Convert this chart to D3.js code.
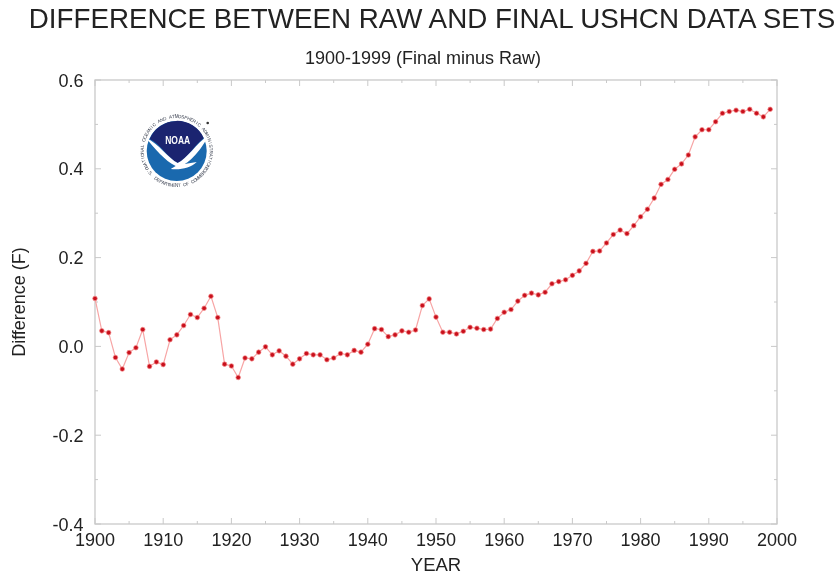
<!DOCTYPE html>
<html>
<head>
<meta charset="utf-8">
<script src="https://cdn.jsdelivr.net/npm/d3@7"></script>
<style>
  html, body { margin: 0; padding: 0; background: #fff; }
  svg { display: block; filter: blur(0.4px); }
  text { font-family: "Liberation Sans", Arial, sans-serif; fill: #222; }
</style>
</head>
<body>
<div id="chart"></div>
<script>
const TITLE = 'DIFFERENCE BETWEEN RAW AND FINAL USHCN DATA SETS'
const SUBTITLE = '1900-1999 (Final minus Raw)'
const X_LABEL = 'YEAR'
const Y_LABEL = 'Difference (F)'
const X_TICKS = [1900, 1910, 1920, 1930, 1940, 1950, 1960, 1970, 1980, 1990, 2000]
const X_MINOR = [1905, 1915, 1925, 1935, 1945, 1955, 1965, 1975, 1985, 1995]
const Y_TICKS = [-0.4, -0.2, 0.0, 0.2, 0.4, 0.6]
const Y_MINOR = [-0.3, -0.1, 0.1, 0.3, 0.5]
const FIRST_YEAR = 1900
const DIFFERENCE = [
  0.108, 0.035, 0.031, -0.025, -0.051, -0.014, -0.003, 0.038, -0.045, -0.035,
  -0.041, 0.015, 0.026, 0.047, 0.072, 0.065, 0.086, 0.113, 0.065, -0.040,
  -0.044, -0.070, -0.026, -0.028, -0.013, -0.001, -0.019, -0.010, -0.022, -0.040,
  -0.028, -0.016, -0.019, -0.019, -0.030, -0.026, -0.016, -0.019, -0.009, -0.013,
  0.005, 0.040, 0.038, 0.022, 0.026, 0.035, 0.032, 0.037, 0.092, 0.107,
  0.066, 0.032, 0.032, 0.028, 0.034, 0.043, 0.041, 0.038, 0.039, 0.063,
  0.077, 0.083, 0.102, 0.115, 0.120, 0.116, 0.122, 0.141, 0.146, 0.150,
  0.160, 0.170, 0.187, 0.214, 0.215, 0.233, 0.252, 0.262, 0.254, 0.272,
  0.292, 0.309, 0.334, 0.365, 0.376, 0.399, 0.411, 0.431, 0.472, 0.488,
  0.488, 0.506, 0.525, 0.529, 0.532, 0.529, 0.534, 0.525, 0.517, 0.534
]

const width = 839
const height = 575
const margin = {top: 80, right: 62, bottom: 51, left: 95}
const axisColor = '#c9c9c9'

const svg = d3.select('#chart').append('svg')
  .attr('width', width)
  .attr('height', height)

const x = d3.scaleLinear().domain([1900, 2000]).range([margin.left, width - margin.right])
const y = d3.scaleLinear().domain([-0.4, 0.6]).range([height - margin.bottom, margin.top])

// frame
svg.append('rect')
  .attr('x', x(1900)).attr('y', y(0.6))
  .attr('width', x(2000) - x(1900)).attr('height', y(-0.4) - y(0.6))
  .attr('fill', 'none').attr('stroke', axisColor).attr('stroke-width', 1.3)

// inward ticks on all four sides
function xTicks(values, len){
  svg.append('g').selectAll('path').data(values).enter().append('path')
    .attr('d', d => `M${x(d)},${y(-0.4)}v${-len}M${x(d)},${y(0.6)}v${len}`)
    .attr('stroke', axisColor).attr('stroke-width', 1).attr('fill', 'none')
}
function yTicks(values, len){
  svg.append('g').selectAll('path').data(values).enter().append('path')
    .attr('d', d => `M${x(1900)},${y(d)}h${len}M${x(2000)},${y(d)}h${-len}`)
    .attr('stroke', axisColor).attr('stroke-width', 1).attr('fill', 'none')
}
xTicks(X_TICKS, 6)
xTicks(X_MINOR, 3)
yTicks(Y_TICKS, 6)
yTicks(Y_MINOR, 3)

// tick labels
svg.append('g').selectAll('text').data(X_TICKS).enter().append('text')
  .attr('x', d => x(d)).attr('y', 546)
  .attr('text-anchor', 'middle').attr('font-size', 18)
  .text(d => d)
svg.append('g').selectAll('text').data(Y_TICKS).enter().append('text')
  .attr('x', 83.5).attr('y', d => y(d) + 6.5)
  .attr('text-anchor', 'end').attr('font-size', 18)
  .text(d => d.toFixed(1))

// titles
svg.append('text').attr('x', 432).attr('y', 28)
  .attr('text-anchor', 'middle').attr('font-size', 27.75)
  .text(TITLE)
svg.append('text').attr('x', 423).attr('y', 64)
  .attr('text-anchor', 'middle').attr('font-size', 18)
  .text(SUBTITLE)
svg.append('text').attr('x', 436).attr('y', 571)
  .attr('text-anchor', 'middle').attr('font-size', 18.5)
  .text(X_LABEL)
svg.append('text')
  .attr('transform', 'translate(25,302) rotate(-90)')
  .attr('text-anchor', 'middle').attr('font-size', 18)
  .text(Y_LABEL)

// data
const points = DIFFERENCE.map((v, i) => ({year: FIRST_YEAR + i, value: v}))
const line = d3.line().x(d => x(d.year)).y(d => y(d.value))

svg.append('path').datum(points)
  .attr('d', line)
  .attr('fill', 'none')
  .attr('stroke', '#f7a5a5')
  .attr('stroke-width', 1.2)

svg.append('g').selectAll('circle').data(points).enter().append('circle')
  .attr('cx', d => x(d.year))
  .attr('cy', d => y(d.value))
  .attr('r', 2.3)
  .attr('fill', '#c8101c')
  .attr('stroke', '#f58a8a')
  .attr('stroke-width', 0.7)

// NOAA logo
const logo = svg.append('g').attr('transform', 'translate(176.7,151)')

logo.append('circle').attr('r', 30).attr('fill', '#1a69ae')
logo.append('path')
  .attr('d', 'M-27,-12 A29.5,29.5 0 0 1 27,-13 C18,-6 10,8 1,12 C-8,8 -16,-7 -27,-12 Z')
  .attr('fill', '#1b2470')
logo.append('path')
  .attr('d', 'M-31,-13 C-18,-8 -8,8 1,12 C10,8 20,-8 31,-15 C27,-4 14,10 8,13 L20,11 C14,17 4,19 -6,18 L-1,15 C-12,10 -22,-3 -31,-13 Z')
  .attr('fill', '#fff')
logo.append('text')
  .attr('x', 1).attr('y', -7).attr('text-anchor', 'middle')
  .attr('font-size', 10.5).attr('font-weight', 'bold')
  .attr('textLength', 25).attr('lengthAdjust', 'spacingAndGlyphs')
  .style('fill', '#fff')
  .text('NOAA')

// ring lettering, one text per letter
function ringText(str, radius, step, flip){
  const chars = Array.from(str)
  logo.append('g').selectAll('text').data(chars).enter().append('text')
    .attr('text-anchor', 'middle').attr('font-size', 4.6)
    .style('fill', '#3a4050')
    .attr('transform', (d, i) => {
      const offset = (i - (chars.length - 1) / 2) * step
      return flip
        ? `rotate(${-offset}) translate(0,${radius}) `
        : `rotate(${offset}) translate(0,${-radius})`
    })
    .text(d => d)
}
ringText('NATIONAL OCEANIC AND ATMOSPHERIC ADMINISTRATION', 33, 5.1, false)
ringText('U.S. DEPARTMENT OF COMMERCE', 36, 4.6, true)

logo.append('circle').attr('cx', 31).attr('cy', -28).attr('r', 1.3).attr('fill', '#333')
</script>
</body>
</html>
